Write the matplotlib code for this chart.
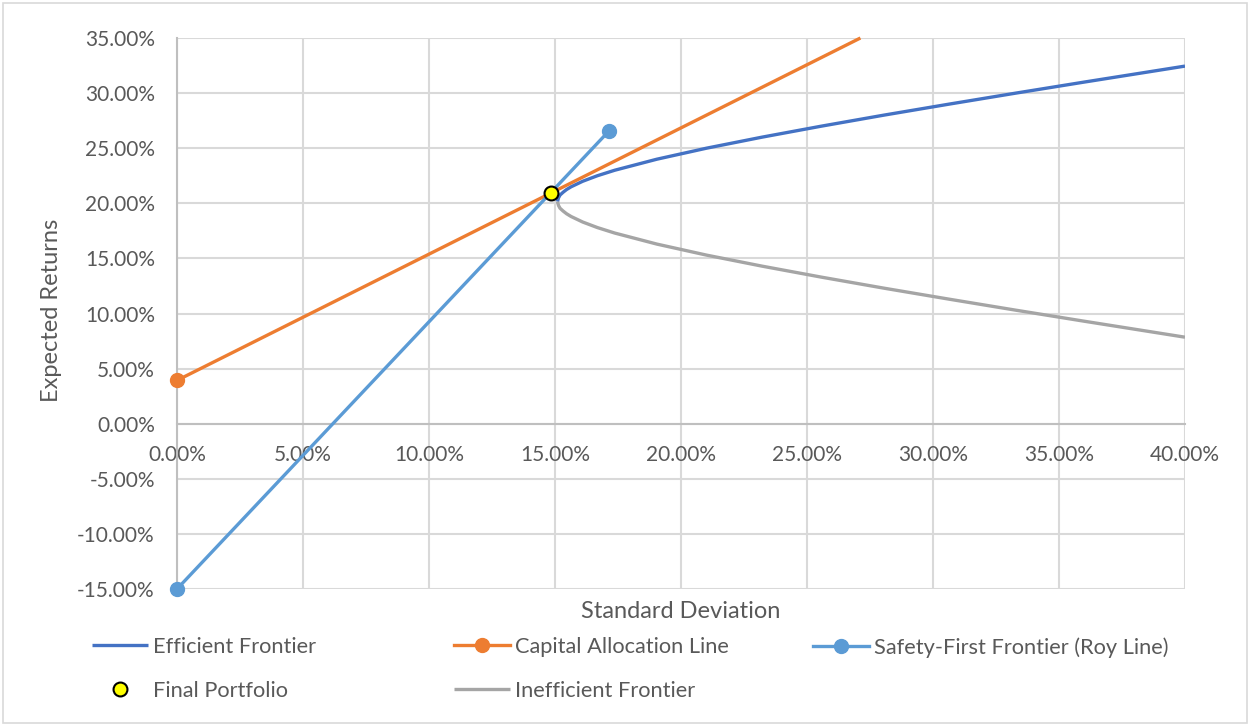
import matplotlib.pyplot as plt
from matplotlib.patches import Rectangle
from matplotlib.lines import Line2D
from matplotlib.ticker import FuncFormatter, MultipleLocator

plt.rcParams['font.family'] = ['Lato', 'DejaVu Sans']

TEXT = '#595959'
GRID = '#D9D9D9'

# frontier points (std dev %, return %)
eff_std = [15.10, 15.11, 15.14, 15.20, 15.32, 15.46, 15.64, 16.10, 16.68,
           17.37, 19.04, 21.01, 23.21, 25.57, 28.05, 30.64, 33.29, 36.00,
           38.76, 40.00]
eff_ret = [20.15, 20.25, 20.5, 20.75, 21.0, 21.25, 21.5, 22.0, 22.5,
           23.0, 24.0, 25.0, 26.0, 27.0, 28.0, 29.0, 30.0, 31.0,
           32.0, 32.45]
ineff_std = [15.10, 15.11, 15.14, 15.20, 15.32, 15.46, 15.64, 16.10, 16.68,
             17.37, 19.04, 21.01, 23.21, 25.57, 28.05, 30.64, 33.29, 36.00,
             38.76, 40.00]
ineff_ret = [20.15, 20.05, 19.8, 19.55, 19.3, 19.05, 18.8, 18.3, 17.8,
             17.3, 16.3, 15.3, 14.3, 13.3, 12.3, 11.3, 10.3, 9.3,
             8.3, 7.85]

# capital allocation line: risk-free point to where it leaves the chart
cal_std = [0.0, 27.12]
cal_ret = [3.93, 35.0]

# Roy safety-first line
roy_std = [0.0, 17.14]
roy_ret = [-15.0, 26.56]

final_std = [14.84]
final_ret = [20.93]

fig = plt.figure(figsize=(12.5, 7.26), dpi=100)
ax = fig.add_axes([177 / 1250, 1 - 589 / 726, (1185 - 177) / 1250, (589 - 38) / 726])

ax.plot(eff_std, eff_ret, color='#4472C4', lw=2.4, zorder=3,
        solid_capstyle='butt', label='Efficient Frontier')
ax.plot(cal_std, cal_ret, color='#ED7D31', lw=2.4, marker='o', ms=10,
        markevery=[0], zorder=4, clip_on=False, solid_capstyle='butt',
        label='Capital Allocation Line')
ax.plot(roy_std, roy_ret, color='#5B9BD5', lw=2.4, marker='o', ms=10,
        zorder=5, clip_on=False, label='Safety-First Frontier (Roy Line)')
ax.plot(final_std, final_ret, ls='none', marker='o', ms=10, mfc='#FFFF00',
        mec='black', mew=1.5, zorder=7, label='Final Portfolio')
ax.plot(ineff_std, ineff_ret, color='#A5A5A5', lw=2.4, zorder=3,
        solid_capstyle='butt', label='Inefficient Frontier')

ax.set_xlim(0, 40)
ax.set_ylim(-15, 35)
ax.xaxis.set_major_locator(MultipleLocator(5))
ax.yaxis.set_major_locator(MultipleLocator(5))
pct = FuncFormatter(lambda v, p: f'{v:.2f}%')
ax.xaxis.set_major_formatter(pct)
ax.yaxis.set_major_formatter(pct)

ax.grid(True, color=GRID, lw=1.5)
ax.set_axisbelow(True)
for side in ['top', 'right']:
    ax.spines[side].set_visible(False)
ax.spines['bottom'].set_position(('data', 0))
for side in ['bottom', 'left']:
    ax.spines[side].set_color('#BFBFBF')
    ax.spines[side].set_linewidth(1.5)
    ax.spines[side].set_zorder(1)
ax.tick_params(axis='x', length=0, pad=15, labelsize=15, labelcolor=TEXT)
ax.tick_params(axis='y', length=0, pad=16, labelsize=15, labelcolor=TEXT)

fig.text(681 / 1250, 1 - 611 / 726, 'Standard Deviation', ha='center',
         va='center', fontsize=17, color=TEXT)
fig.text(52 / 1250, 1 - 310 / 726, 'Expected Returns', ha='center',
         va='center', rotation=90, fontsize=17, color=TEXT)

# legend laid out in three fixed-width columns
handles, labels = ax.get_legend_handles_labels()
h = dict(zip(labels, handles))
final_handle = Line2D([], [], ls='none', marker='o', ms=10, mfc='#FFFF00',
                      mec='black', mew=1.5)
cal_handle = Line2D([], [], color='#ED7D31', lw=2.4, marker='o', ms=10)
columns = [
    (92, [h['Efficient Frontier'], final_handle], ['Efficient Frontier', 'Final Portfolio']),
    (454, [cal_handle, h['Inefficient Frontier']], ['Capital Allocation Line', 'Inefficient Frontier']),
    (813, [h['Safety-First Frontier (Roy Line)']], ['Safety-First Frontier (Roy Line)']),
]
for x0, hs, ls in columns:
    fig.legend(hs, ls, loc='upper left',
               bbox_to_anchor=(x0 / 1250, 1 - 637 / 726),
               frameon=False, fontsize=15.7, labelcolor=TEXT,
               handlelength=2.55, handletextpad=0.25, borderpad=0,
               borderaxespad=0, labelspacing=1.1, numpoints=1)

fig.patches.append(Rectangle((3 / 1250, 3 / 726), 1244 / 1250, 720 / 726,
                             transform=fig.transFigure, fill=False,
                             edgecolor=GRID, lw=1.2))

fig.savefig('out.png', dpi=100)
